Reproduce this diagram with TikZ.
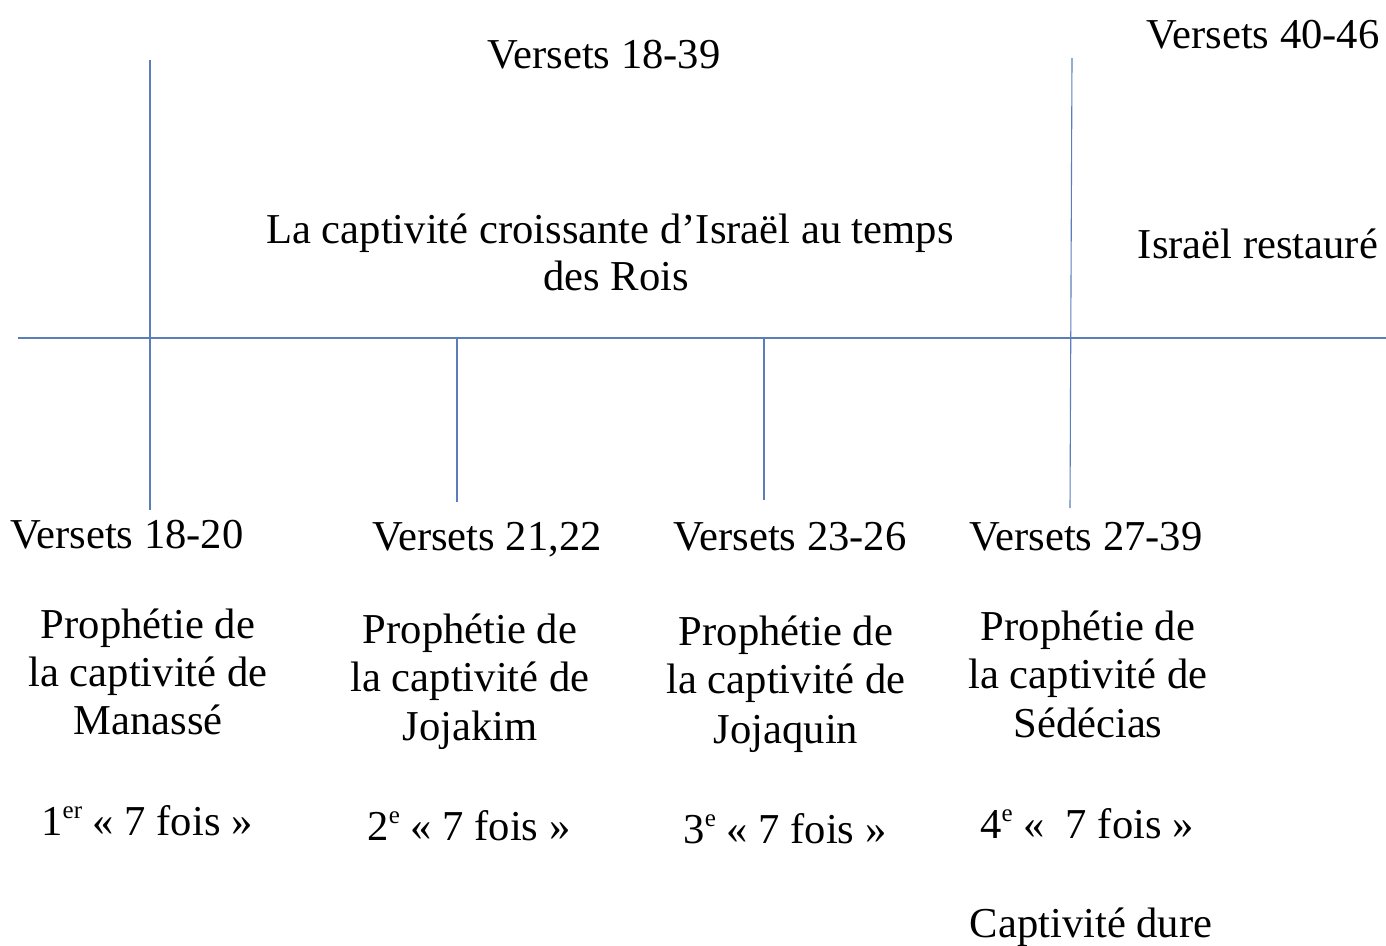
\documentclass[tikz,border=0pt]{standalone}
\usepackage{fontspec}
\setmainfont{Liberation Serif}
\definecolor{linecol}{HTML}{5B7EBB}
\newcommand{\sups}[1]{\raisebox{17pt}{\fontsize{25}{25}\selectfont #1}}
\begin{document}
\begin{tikzpicture}[x=1pt,y=-1pt,
  txt/.style={inner sep=0pt,anchor=base,font=\fontsize{42.6}{48}\selectfont},
  rule/.style={draw=linecol,line width=1.1pt}]
\useasboundingbox[fill=white] (0,0) rectangle (1386,945);
% axis and ticks
\coordinate (hl) at (18,338);
\coordinate (hr) at (1386,338);
\coordinate (v1t) at (150,60);  \coordinate (v1b) at (150,510);
\coordinate (v2t) at (457,338); \coordinate (v2b) at (457,502);
\coordinate (v3t) at (764,338); \coordinate (v3b) at (764,500);
\coordinate (v4t) at (1072,58); \coordinate (v4b) at (1070,508);
\draw[rule] (hl) -- (hr);
\draw[rule] (v1t) -- (v1b);
\draw[rule] (v2t) -- (v2b);
\draw[rule] (v3t) -- (v3b);
\draw[rule] (v4t) -- (v4b);
% top labels
\node[txt] (top1) at (604,68) {Versets 18-39};
\node[txt] (top2) at (1263,48) {Versets 40-46};
\node[txt] (mid1a) at (610,243) {La captivité croissante d’Israël au temps};
\node[txt] (mid1b) at (616,290) {des Rois};
\node[txt] (mid2) at (1258,258) {Israël restauré};
% column 1
\node[txt] (c1v) at (127,548) {Versets 18-20};
\node[txt] (c1a) at (148,638) {Prophétie de};
\node[txt] (c1b) at (148,686) {la captivité de};
\node[txt] (c1c) at (148,734) {Manassé};
\node[txt] (c1d) at (147,835) {1\sups{er} « 7 fois »};
% column 2
\node[txt] (c2v) at (487,550) {Versets 21,22};
\node[txt] (c2a) at (470,643) {Prophétie de};
\node[txt] (c2b) at (470,691) {la captivité de};
\node[txt] (c2c) at (470,740) {Jojakim};
\node[txt] (c2d) at (469,840) {2\sups{e} « 7 fois »};
% column 3
\node[txt] (c3v) at (790,550) {Versets 23-26};
\node[txt] (c3a) at (786,645) {Prophétie de};
\node[txt] (c3b) at (786,693) {la captivité de};
\node[txt] (c3c) at (786,743) {Jojaquin};
\node[txt] (c3d) at (785,843) {3\sups{e} « 7 fois »};
% column 4
\node[txt] (c4v) at (1086,550) {Versets 27-39};
\node[txt] (c4a) at (1088,640) {Prophétie de};
\node[txt] (c4b) at (1088,688) {la captivité de};
\node[txt] (c4c) at (1088,737) {Sédécias};
\node[txt] (c4d) at (1087,838) {4\sups{e} «\ \ 7 fois »};
\node[txt] (c4e) at (1091,937) {Captivité dure};
\end{tikzpicture}
\end{document}
